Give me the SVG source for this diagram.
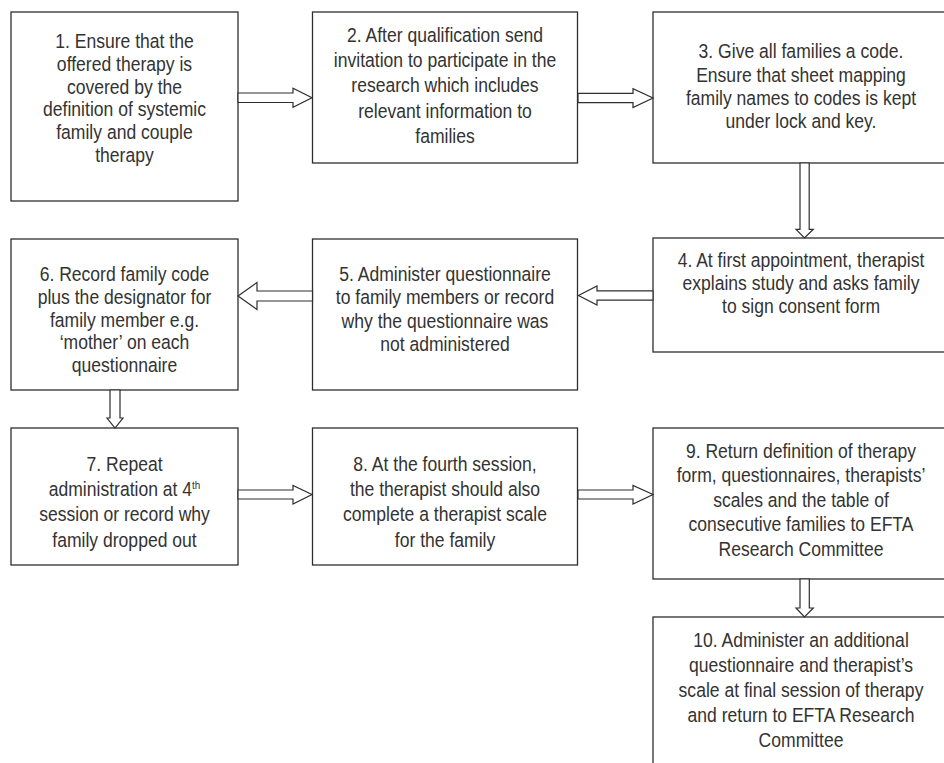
<svg xmlns="http://www.w3.org/2000/svg" width="944" height="763" viewBox="0 0 944 763">
<style>
.box{fill:#fff;stroke:#2e2e2e;stroke-width:1.3}
.arr{fill:#fff;stroke:#2e2e2e;stroke-width:1.2;stroke-linejoin:miter}
text{font-family:"Liberation Sans",Arial,sans-serif;font-size:19.5px;fill:#333;text-anchor:middle}
.sup{font-size:11px}
</style>
<rect width="944" height="763" fill="#fff"/>
<g id="n1"><rect class="box" x="11" y="12" width="227" height="189"/>
<g transform="translate(124.5 0) scale(0.9 1)">
<text x="0" y="48">1. Ensure that the</text>
<text x="0" y="70.8">offered therapy is</text>
<text x="0" y="93.6">covered by the</text>
<text x="0" y="116.4">definition of systemic</text>
<text x="0" y="139.2">family and couple</text>
<text x="0" y="162">therapy</text></g></g>
<g id="n2"><rect class="box" x="312.5" y="12" width="265" height="151"/>
<g transform="translate(445 0) scale(0.9 1)">
<text x="0" y="41.7">2. After qualification send</text>
<text x="0" y="67">invitation to participate in the</text>
<text x="0" y="92.3">research which includes</text>
<text x="0" y="117.6">relevant information to</text>
<text x="0" y="143">families</text></g></g>
<g id="n3"><rect class="box" x="653" y="12" width="297" height="151"/>
<g transform="translate(801 0) scale(0.9 1)">
<text x="0" y="58.3">3. Give all families a code.</text>
<text x="0" y="81.6">Ensure that sheet mapping</text>
<text x="0" y="105">family names to codes is kept</text>
<text x="0" y="128.3">under lock and key.</text></g></g>
<g id="n4"><rect class="box" x="653" y="238" width="297" height="114"/>
<g transform="translate(801 0) scale(0.9 1)">
<text x="0" y="267">4. At first appointment, therapist</text>
<text x="0" y="290">explains study and asks family</text>
<text x="0" y="313">to sign consent form</text></g></g>
<g id="n5"><rect class="box" x="312.5" y="239" width="265" height="151"/>
<g transform="translate(445 0) scale(0.9 1)">
<text x="0" y="281">5. Administer questionnaire</text>
<text x="0" y="304.3">to family members or record</text>
<text x="0" y="327.7">why the questionnaire was</text>
<text x="0" y="351">not administered</text></g></g>
<g id="n6"><rect class="box" x="11" y="239" width="227" height="151"/>
<g transform="translate(124.5 0) scale(0.9 1)">
<text x="0" y="281">6. Record family code</text>
<text x="0" y="303.8">plus the designator for</text>
<text x="0" y="326.6">family member e.g.</text>
<text x="0" y="349.4">‘mother’ on each</text>
<text x="0" y="372.2">questionnaire</text></g></g>
<g id="n7"><rect class="box" x="11" y="428" width="227" height="137"/>
<g transform="translate(124.5 0) scale(0.9 1)">
<text x="0" y="470.7">7. Repeat</text>
<text x="0" y="496">administration at 4<tspan class="sup" dy="-7">th</tspan></text>
<text x="0" y="521.3">session or record why</text>
<text x="0" y="546.6">family dropped out</text></g></g>
<g id="n8"><rect class="box" x="312.5" y="428" width="265" height="137"/>
<g transform="translate(445 0) scale(0.9 1)">
<text x="0" y="470.7">8. At the fourth session,</text>
<text x="0" y="496">the therapist should also</text>
<text x="0" y="521.3">complete a therapist scale</text>
<text x="0" y="546.6">for the family</text></g></g>
<g id="n9"><rect class="box" x="653" y="428" width="297" height="151"/>
<g transform="translate(801 0) scale(0.9 1)">
<text x="0" y="458">9. Return definition of therapy</text>
<text x="0" y="482.5">form, questionnaires, therapists’</text>
<text x="0" y="507">scales and the table of</text>
<text x="0" y="531.5">consecutive families to EFTA</text>
<text x="0" y="556">Research Committee</text></g></g>
<g id="n10"><rect class="box" x="653" y="617" width="297" height="160"/>
<g transform="translate(801 0) scale(0.9 1)">
<text x="0" y="647.3">10. Administer an additional</text>
<text x="0" y="672.2">questionnaire and therapist’s</text>
<text x="0" y="697">scale at final session of therapy</text>
<text x="0" y="721.9">and return to EFTA Research</text>
<text x="0" y="746.7">Committee</text></g></g>
<g id="connectors">
<polygon class="arr" points="238,93 293,93 293,88.2 312,97.7 293,107.2 293,102.5 238,102.5"/>
<polygon class="arr" points="578,93.3 633,93.3 633,88.8 653,98 633,107.5 633,102.7 578,102.7"/>
<polygon class="arr" points="800,163 809.2,163 809.2,229.3 813.3,229.3 804.5,238 796,229.3 800,229.3"/>
<polygon class="arr" points="653,290.8 597,290.8 597,286 578.5,295.5 597,305 597,300.2 653,300.2"/>
<polygon class="arr" points="312.5,291 257,291 257,282.5 238,296 257,309.5 257,301 312.5,301"/>
<polygon class="arr" points="110,390 120,390 120,418 123,418 115,428 107,418 110,418"/>
<polygon class="arr" points="238,490 293,490 293,485.5 312,494.5 293,504 293,499 238,499"/>
<polygon class="arr" points="578,490 633,490 633,485.5 653,494.5 633,504 633,499 578,499"/>
<polygon class="arr" points="800,579 809.3,579 809.3,608 813.3,608 804.5,617 796,608 800,608"/>
</g>
</svg>
